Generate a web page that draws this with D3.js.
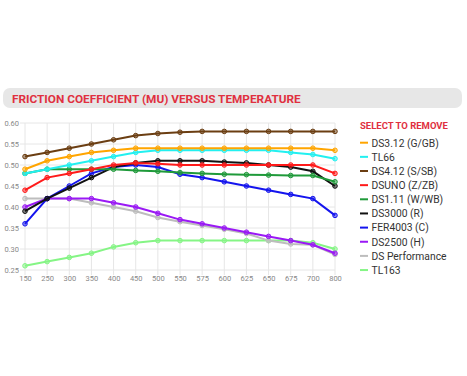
<!DOCTYPE html>
<html>
<head>
<meta charset="utf-8">
<script src="https://cdn.jsdelivr.net/npm/d3@7"></script>
<style>
  body { margin: 0; background: #fff; }
  svg { display: block; font-family: Roboto, sans-serif; }
</style>
</head>
<body>
<div id="chart"></div>
<script>
// temperatures on the x axis (category labels)
var temps = ["150", "250", "300", "350", "400", "450", "500", "550", "575", "600", "625", "650", "675", "700", "800"];
var yTicks = [0.25, 0.30, 0.35, 0.40, 0.45, 0.50, 0.55, 0.60];

var seriesNames = ["DS3.12 (G/GB)", "TL66", "DS4.12 (S/SB)", "DSUNO (Z/ZB)", "DS1.11 (W/WB)",
                   "DS3000 (R)", "FER4003 (C)", "DS2500 (H)", "DS Performance", "TL163"];
var seriesColors = ["#ffa500", "#22f0f0", "#6b3e12", "#ff1a1a", "#1f9a3a",
                    "#111111", "#1414ee", "#9a19f5", "#bdbdbd", "#85f585"];

var ds312   = [0.49, 0.51, 0.52, 0.53, 0.535, 0.54, 0.54, 0.54, 0.54, 0.54, 0.54, 0.54, 0.54, 0.54, 0.535];
var tl66    = [0.48, 0.49, 0.50, 0.51, 0.52, 0.53, 0.535, 0.535, 0.535, 0.535, 0.535, 0.535, 0.53, 0.525, 0.515];
var ds412   = [0.52, 0.53, 0.54, 0.55, 0.56, 0.57, 0.575, 0.578, 0.58, 0.58, 0.58, 0.58, 0.58, 0.58, 0.58];
var dsuno   = [0.44, 0.47, 0.48, 0.49, 0.50, 0.505, 0.503, 0.50, 0.50, 0.50, 0.50, 0.50, 0.50, 0.50, 0.48];
var ds111   = [0.48, 0.49, 0.49, 0.49, 0.49, 0.487, 0.485, 0.482, 0.48, 0.478, 0.477, 0.476, 0.475, 0.475, 0.46];
var ds3000  = [0.39, 0.42, 0.445, 0.47, 0.495, 0.505, 0.51, 0.51, 0.51, 0.507, 0.505, 0.50, 0.495, 0.485, 0.45];
var fer4003 = [0.36, 0.42, 0.45, 0.48, 0.495, 0.50, 0.495, 0.478, 0.47, 0.46, 0.45, 0.44, 0.43, 0.42, 0.38];
var ds2500  = [0.40, 0.42, 0.42, 0.42, 0.41, 0.40, 0.385, 0.37, 0.36, 0.35, 0.34, 0.33, 0.32, 0.31, 0.29];
var dsPerf  = [0.42, 0.42, 0.42, 0.41, 0.40, 0.39, 0.375, 0.365, 0.356, 0.347, 0.337, 0.32, 0.312, 0.31, 0.287];
var tl163   = [0.26, 0.27, 0.28, 0.29, 0.305, 0.315, 0.32, 0.32, 0.32, 0.32, 0.32, 0.32, 0.32, 0.315, 0.30];

var seriesValues = [ds312, tl66, ds412, dsuno, ds111, ds3000, fer4003, ds2500, dsPerf, tl163];

var width = 467, height = 376;
var plotLeft = 25, plotRight = 335, plotTop = 123, plotBottom = 270;

var svg = d3.select("#chart").append("svg")
    .attr("width", width)
    .attr("height", height);

// header bar
svg.append("rect")
    .attr("x", 3).attr("y", 88)
    .attr("width", 459).attr("height", 20)
    .attr("rx", 7)
    .attr("fill", "#e7e7e7");

svg.append("text")
    .attr("x", 12).attr("y", 102.5)
    .attr("fill", "#e03040")
    .attr("font-size", 11.8)
    .attr("font-weight", "bold")
    .text("FRICTION COEFFICIENT (MU) VERSUS TEMPERATURE");

var x = d3.scalePoint().domain(temps).range([plotLeft, plotRight]);
var y = d3.scaleLinear().domain([0.25, 0.60]).range([plotBottom, plotTop]);

// grid
var grid = svg.append("g");
grid.selectAll("line.h").data(yTicks).enter().append("line")
    .attr("x1", plotLeft - 5).attr("x2", plotRight)
    .attr("y1", function(d) { return y(d); })
    .attr("y2", function(d) { return y(d); })
    .attr("stroke", "#e6e6e6");
grid.selectAll("line.v").data(temps).enter().append("line")
    .attr("x1", function(d) { return x(d); })
    .attr("x2", function(d) { return x(d); })
    .attr("y1", plotTop).attr("y2", plotBottom + 5)
    .attr("stroke", "#e6e6e6");

// axis labels
var yAxis = d3.axisLeft(y).tickValues(yTicks).tickFormat(d3.format(".2f")).tickSize(0).tickPadding(5);
var gy = svg.append("g").attr("transform", "translate(" + (plotLeft - 1) + ",0)").call(yAxis);
gy.select(".domain").remove();
gy.selectAll("text").attr("fill", "#888").attr("font-size", 7.5).attr("font-family", "Roboto, sans-serif");

var xAxis = d3.axisBottom(x).tickSize(0).tickPadding(6);
var gx = svg.append("g").attr("transform", "translate(0," + plotBottom + ")").call(xAxis);
gx.select(".domain").remove();
gx.selectAll("text").attr("fill", "#888").attr("font-size", 7.5).attr("font-family", "Roboto, sans-serif");

// lines, first series ends up on top
var line = d3.line()
    .x(function(d, i) { return x(temps[i]); })
    .y(function(d) { return y(d); });

for (var s = seriesValues.length - 1; s >= 0; s--) {
    var g = svg.append("g");
    g.append("path")
        .datum(seriesValues[s])
        .attr("d", line)
        .attr("fill", "none")
        .attr("stroke", seriesColors[s])
        .attr("stroke-width", 2);
    g.selectAll("circle").data(seriesValues[s]).enter().append("circle")
        .attr("cx", function(d, i) { return x(temps[i]); })
        .attr("cy", function(d) { return y(d); })
        .attr("r", 2.3)
        .attr("fill", seriesColors[s])
        .attr("fill-opacity", 0.5)
        .attr("stroke", seriesColors[s])
        .attr("stroke-width", 1);
}

// legend
svg.append("text")
    .attr("x", 360).attr("y", 128.5)
    .attr("fill", "#e03040")
    .attr("font-size", 9.5)
    .attr("font-weight", "bold")
    .text("SELECT TO REMOVE");

var legend = svg.selectAll("g.leg").data(seriesNames).enter().append("g")
    .attr("transform", function(d, i) { return "translate(360," + (142.7 + i * 14.15) + ")"; });
legend.append("line")
    .attr("x1", 0).attr("x2", 8)
    .attr("stroke", function(d, i) { return seriesColors[i]; })
    .attr("stroke-width", 2);
legend.append("text")
    .attr("x", 11.5).attr("y", 3.8)
    .attr("fill", "#333")
    .attr("font-size", 10.3)
    .text(function(d) { return d; });
</script>
</body>
</html>
